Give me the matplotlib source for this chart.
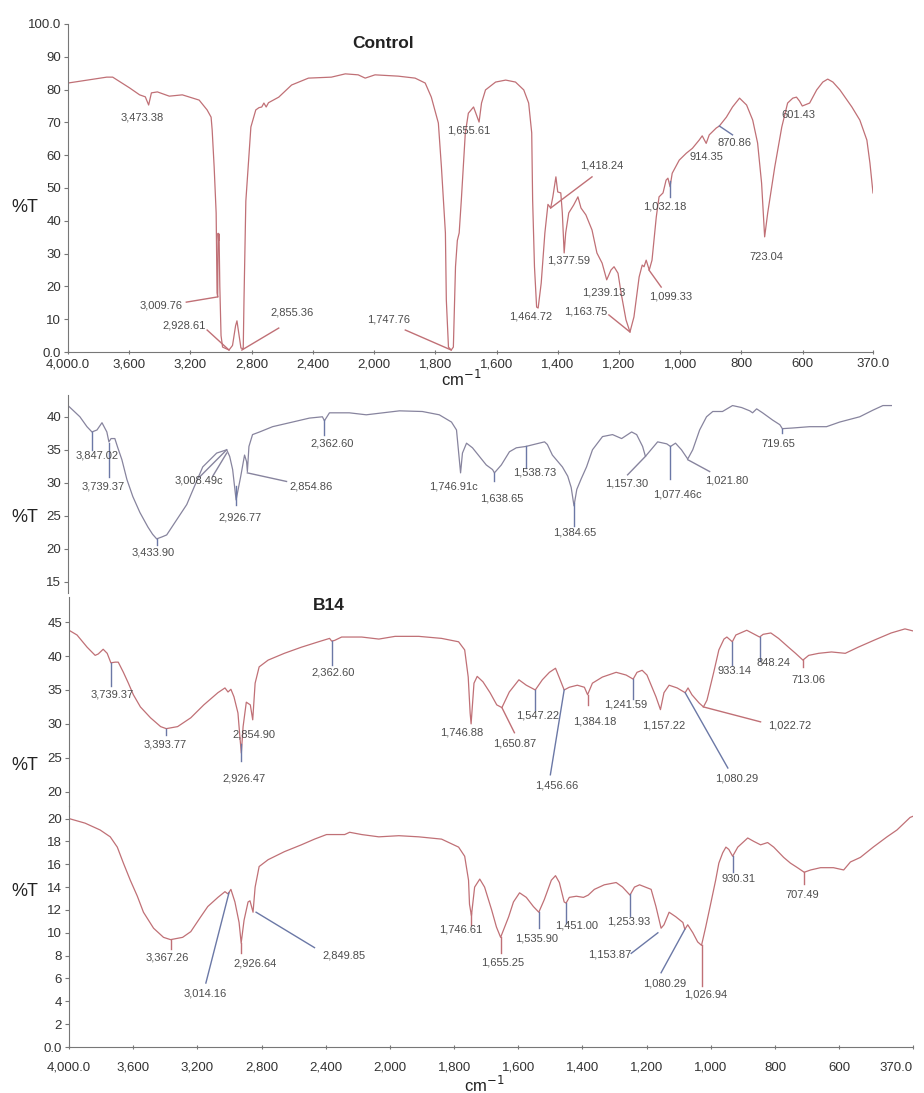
import numpy as np
import matplotlib
matplotlib.use('Agg')
import matplotlib.pyplot as plt

plt.rcParams['font.family'] = ['Liberation Sans', 'DejaVu Sans']

# ---- spectre Control ----
wn_control = [4000, 3747, 3708, 3597, 3532, 3495, 3473, 3455, 3416, 3338, 3253, 3143, 3091, 3065,
              3058, 3045, 3032, 3026, 3022, 3019, 3016, 3013, 3008, 3000, 2990, 2948, 2925, 2905,
              2896, 2885, 2870, 2855, 2850, 2838, 2805, 2773, 2752, 2734, 2720, 2705, 2690, 2623,
              2539, 2429, 2279, 2188, 2104, 2058, 1997, 1921, 1866, 1833, 1813, 1790, 1780, 1767,
              1764, 1757, 1748, 1741, 1737, 1734, 1728, 1722, 1715, 1702, 1692, 1675, 1657, 1649,
              1636, 1603, 1570, 1538, 1511, 1495, 1485, 1482, 1476, 1469, 1464, 1454, 1442, 1432,
              1423, 1416, 1406, 1400, 1390, 1385, 1379, 1374, 1364, 1348, 1334, 1324, 1308, 1288,
              1272, 1255, 1240, 1226, 1216, 1203, 1193, 1177, 1164, 1151, 1134, 1124, 1118, 1111,
              1101, 1092, 1078, 1069, 1056, 1046, 1040, 1033, 1026, 1003, 980, 960, 938, 928, 915,
              905, 882, 872, 849, 829, 806, 783, 763, 747, 734, 724, 714, 691, 668, 649, 632, 620,
              610, 601, 577, 554, 534, 518, 501, 478, 455, 439, 413, 390, 380, 370]
t_control = [82.0, 83.8, 83.8, 80.5, 78.4, 77.8, 75.3, 79.0, 79.3, 78.0, 78.4, 76.8, 73.8, 71.6,
             67.7, 56.4, 42.4, 18.0, 16.8, 36.2, 34.0, 36.0, 20.0, 5.0, 1.5, 0.6, 2.0, 8.0,
             9.5, 6.0, 1.2, 1.0, 15.9, 46.0, 68.6, 73.8, 74.5, 74.7, 75.9, 74.7, 76.0, 77.7,
             81.4, 83.5, 83.8, 84.8, 84.5, 83.5, 84.5, 84.1, 83.5, 82.0, 77.7, 69.8, 56.4, 36.3,
             15.9, 1.5, 0.6, 1.5, 15.9, 26.0, 34.0, 36.3, 46.3, 66.7, 72.8, 74.7, 70.1, 75.9,
             79.9, 82.3, 82.9, 82.3, 79.9, 75.9, 66.8, 46.3, 26.0, 13.7, 13.4, 21.0, 36.3, 45.0,
             43.9, 47.3, 53.4, 48.8, 48.5, 42.4, 30.2, 36.3, 42.4, 44.8, 47.3, 43.9, 41.8, 37.2,
             30.2, 27.1, 22.0, 25.0, 26.0, 24.0, 18.0, 9.8, 6.1, 10.7, 22.9, 26.5, 26.0, 28.0,
             25.0, 28.0, 41.2, 47.3, 48.5, 52.4, 53.0, 50.4, 54.5, 58.5, 60.6, 62.1, 64.6, 65.9, 63.6,
             66.2, 68.3, 68.9, 71.6, 74.7, 77.4, 75.3, 70.7, 63.7, 51.5, 35.1, 42.4, 56.4, 68.6, 75.9, 77.4, 77.7,
             76.5, 75.0, 75.9, 79.9, 82.3, 83.2, 82.3, 79.9, 76.8, 74.7, 70.7, 64.6, 57.6, 48.5]
pics_control = ["3,473.38", "3,009.76", "2,928.61", "2,855.36", "1,747.76", "1,655.61", "1,418.24",
                "1,377.59", "1,464.72", "1,239.13", "1,163.75", "1,099.33", "1,032.18", "914.35",
                "870.86", "723.04", "601.43"]

# ---- spectre 2 ----
wn_s2 = [4000, 3924, 3879, 3847, 3815, 3783, 3752, 3739, 3725, 3701, 3682, 3656, 3624, 3586, 3541,
         3490, 3460, 3434, 3400, 3370, 3306, 3242, 3210, 3140, 3051, 2987, 2968, 2949, 2927, 2898,
         2873, 2860, 2855, 2845, 2822, 2777, 2694, 2567, 2459, 2376, 2363, 2331, 2204, 2096, 1942,
         1869, 1815, 1776, 1760, 1753, 1747, 1741, 1728, 1709, 1687, 1665, 1645, 1639, 1617, 1591,
         1569, 1539, 1505, 1479, 1470, 1454, 1422, 1405, 1394, 1385, 1376, 1362, 1345, 1326, 1294,
         1262, 1233, 1201, 1185, 1166, 1157, 1134, 1118, 1089, 1077, 1061, 1042, 1022, 1006, 984,
         962, 942, 911, 879, 850, 824, 815, 802, 783, 751, 728, 720, 687, 633, 579, 537, 473, 431,
         399, 370]
t_s2 = [41.7, 40.0, 38.5, 37.7, 38.0, 39.1, 37.7, 36.2, 36.7, 36.7, 35.3, 33.5, 30.5, 27.9, 25.5,
        23.3, 22.2, 21.5, 21.8, 22.1, 24.4, 26.7, 28.5, 32.4, 34.5, 35.0, 34.0, 32.0, 27.4, 30.9,
        34.2, 33.2, 31.7, 35.5, 37.3, 37.7, 38.5, 39.2, 39.8, 40.0, 39.4, 40.6, 40.6, 40.3, 40.9,
        40.8, 40.3, 39.2, 38.0, 34.5, 31.5, 34.5, 36.0, 35.3, 34.0, 32.7, 32.0, 31.5, 32.7, 34.7,
        35.3, 35.5, 35.9, 36.2, 35.8, 34.2, 32.4, 31.0, 29.3, 26.5, 29.0, 30.6, 32.4, 35.0, 37.0,
        37.3, 36.7, 37.7, 37.3, 35.5, 34.0, 35.3, 36.2, 35.9, 35.5, 36.0, 35.0, 33.6, 35.0, 38.0,
        40.0, 40.8, 40.8, 41.7, 41.4, 40.9, 40.6, 41.2, 40.6, 39.5, 38.8, 38.2, 38.3, 38.5, 38.5,
        39.2, 40.0, 41.0, 41.7, 41.7]
pics_s2 = ["3,847.02", "3,739.37", "3,433.90", "3,008.49c", "2,926.77", "2,854.86", "2,362.60",
           "1,746.91c", "1,638.65", "1,538.73", "1,384.65", "1,157.30", "1,077.46c", "1,021.80",
           "719.65"]

# ---- spectre B14 ----
wn_b14 = [4000, 3950, 3887, 3837, 3818, 3787, 3762, 3739, 3712, 3693, 3661, 3630, 3599, 3555, 3492,
          3429, 3394, 3323, 3241, 3160, 3072, 3028, 3009, 2991, 2972, 2947, 2935, 2926, 2915, 2895,
          2870, 2855, 2840, 2815, 2759, 2658, 2552, 2445, 2376, 2363, 2345, 2301, 2176, 2069, 1984,
          1910, 1839, 1786, 1767, 1756, 1750, 1747, 1738, 1728, 1710, 1688, 1667, 1651, 1628, 1598,
          1575, 1547, 1525, 1503, 1484, 1472, 1457, 1441, 1416, 1394, 1384, 1369, 1338, 1295, 1264,
          1242, 1230, 1214, 1199, 1171, 1157, 1146, 1130, 1105, 1080, 1071, 1059, 1037, 1023, 1012,
          991, 975, 959, 950, 933, 922, 888, 872, 848, 837, 813, 789, 758, 736, 713, 695, 664, 624,
          581, 541, 488, 438, 395, 370]
t_b14 = [43.8, 43.1, 41.3, 40.1, 40.3, 41.0, 40.4, 39.0, 39.1, 39.1, 37.6, 36.0, 34.3, 32.5, 30.9,
         29.6, 29.3, 29.6, 30.9, 32.8, 34.6, 35.3, 34.7, 35.1, 34.0, 31.6, 28.1, 25.7, 29.6, 33.2,
         32.8, 30.6, 36.0, 38.4, 39.4, 40.4, 41.3, 42.1, 42.6, 42.2, 42.3, 42.8, 42.8, 42.5, 42.9,
         42.9, 42.6, 42.1, 40.9, 36.9, 31.6, 30.0, 36.0, 37.0, 36.2, 34.6, 32.8, 32.4, 34.7, 36.5,
         35.7, 35.0, 36.5, 37.6, 38.2, 36.8, 35.0, 35.4, 35.7, 35.4, 34.3, 36.0, 36.9, 37.6, 37.2,
         36.6, 37.6, 37.9, 37.2, 34.0, 32.1, 34.6, 35.7, 35.3, 34.6, 35.3, 34.3, 33.1, 32.5, 33.5,
         37.6, 40.9, 42.5, 42.8, 42.1, 43.1, 43.8, 43.4, 42.8, 43.2, 43.4, 42.6, 41.3, 40.4, 39.4,
         40.1, 40.4, 40.6, 40.4, 41.3, 42.4, 43.4, 44.0, 43.7]
pics_b14 = ["3,739.37", "3,393.77", "2,854.90", "2,926.47", "2,362.60", "1,746.88", "1,650.87",
            "1,547.22", "1,456.66", "1,384.18", "1,241.59", "1,157.22", "1,080.29", "1,022.72",
            "933.14", "848.24", "713.06"]

# ---- spectre 4 ----
wn_s4 = [4000, 3900, 3806, 3743, 3699, 3661, 3618, 3574, 3536, 3473, 3411, 3367, 3292, 3241, 3179,
         3135, 3072, 3028, 3009, 2991, 2966, 2940, 2927, 2909, 2884, 2872, 2853, 2840, 2815, 2759,
         2658, 2552, 2470, 2395, 2282, 2251, 2176, 2069, 1972, 1910, 1839, 1786, 1767, 1755, 1752,
         1746, 1736, 1720, 1705, 1683, 1668, 1655, 1630, 1615, 1596, 1575, 1553, 1536, 1519, 1497,
         1484, 1472, 1457, 1451, 1441, 1419, 1397, 1382, 1363, 1332, 1295, 1275, 1252, 1238, 1222,
         1186, 1171, 1155, 1146, 1130, 1109, 1087, 1081, 1072, 1056, 1041, 1029, 1016, 1000, 985,
         975, 963, 953, 944, 932, 916, 885, 866, 845, 823, 804, 773, 752, 730, 709, 689, 658, 618,
         586, 565, 534, 494, 451, 420, 379, 370]
t_s4 = [20.0, 19.6, 19.0, 18.4, 17.5, 16.1, 14.6, 13.2, 11.8, 10.4, 9.6, 9.4, 9.6, 10.1, 11.4,
        12.3, 13.1, 13.6, 13.4, 13.8, 12.7, 10.9, 9.1, 11.1, 12.7, 12.8, 11.8, 14.0, 15.8, 16.4,
        17.1, 17.7, 18.2, 18.6, 18.6, 18.8, 18.6, 18.4, 18.5, 18.4, 18.2, 17.5, 16.7, 14.6, 12.5,
        11.5, 14.0, 14.7, 14.0, 12.0, 10.5, 9.6, 11.4, 12.7, 13.5, 13.1, 12.3, 11.8, 12.9, 14.6,
        15.0, 14.4, 12.7, 12.6, 13.1, 13.2, 13.1, 13.3, 13.8, 14.2, 14.4, 14.0, 13.3, 14.0, 14.2,
        13.8, 12.3, 10.4, 10.7, 11.8, 11.4, 10.9, 10.3, 10.7, 10.0, 9.2, 8.9, 10.5, 12.6, 14.6,
        16.1, 17.0, 17.5, 17.3, 16.7, 17.5, 18.3, 18.0, 17.7, 17.9, 17.5, 16.6, 16.1, 15.7, 15.3,
        15.5, 15.7, 15.7, 15.5, 16.2, 16.6, 17.5, 18.4, 19.0, 20.1, 20.2]
pics_s4 = ["3,367.26", "3,014.16", "2,926.64", "2,849.85", "1,746.61", "1,655.25", "1,535.90",
           "1,451.00", "1,253.93", "1,153.87", "1,080.29", "1,026.94", "930.31", "707.49"]

# position des etiquettes (x en cm-1, y en %T)
pos_control = [(3513, 71.6), (3390, 14.3), (3240, 8.2), (2539, 11.9), (1954, 9.8), (1692, 67.4),
               (1255, 57.0), (1364, 28.0), (1488, 10.7), (1249, 18.0), (1308, 12.2), (1031, 17.0),
               (1049, 44.5), (915, 59.5), (823, 63.7), (720, 29.0), (613, 72.3)]
pos_s2 = [(3815, 34.1), (3777, 29.5), (3459, 19.4), (3166, 30.3), (2904, 24.7), (2446, 29.5),
          (2312, 36.0), (1770, 29.5), (1617, 27.6), (1511, 31.5), (1383, 22.4), (1217, 29.9),
          (1054, 28.2), (898, 30.3), (732, 35.9)]
pos_b14 = [(3730, 34.3), (3398, 26.9), (2846, 28.4), (2909, 21.9), (2351, 37.6), (1776, 28.7),
           (1612, 27.1), (1540, 31.2), (1481, 20.9), (1363, 30.4), (1264, 32.8), (1146, 29.7),
           (918, 21.9), (754, 29.7), (925, 37.8), (806, 39.0), (697, 36.5)]
pos_s4 = [(3386, 7.8), (3154, 4.7), (2840, 7.3), (2288, 8.0), (1780, 10.3), (1649, 7.4),
          (1544, 9.5), (1418, 10.6), (1255, 11.0), (1314, 8.1), (1143, 5.6), (1016, 4.6),
          (915, 14.7), (714, 13.3)]

# traits de rappel : (x1, y1, x2, y2, couleur)
traits_control = [(3227, 15.2, 3022, 16.8, 'r'), (3091, 6.7, 2948, 0.6, 'r'), (2623, 7.3, 2864, 0.6, 'r'),
                  (1898, 6.7, 1748, 0.6, 'r'), (1288, 53.4, 1423, 43.9, 'r'), (1233, 11.3, 1164, 6.1, 'r'),
                  (1102, 25.0, 1062, 19.8, 'r'), (1033, 52.0, 1033, 47.3, 'b'), (872, 68.9, 829, 66.2, 'b')]
traits_s2 = [(3847, 37.7, 3847, 35.0, 'b'), (3739, 36.0, 3739, 30.9, 'b'), (3434, 21.5, 3434, 20.5, 'b'),
             (2927, 29.5, 2927, 26.6, 'b'), (2363, 39.5, 2363, 37.3, 'b'), (1639, 31.5, 1639, 30.2, 'b'),
             (1539, 35.5, 1539, 32.3, 'b'), (1385, 27.0, 1385, 23.5, 'b'), (1077, 35.5, 1077, 30.5, 'b'),
             (720, 38.2, 720, 37.6, 'b'), (3159, 30.9, 2987, 35.0, 'g'), (3076, 31.0, 2987, 34.5, 'g'),
             (2855, 31.5, 2605, 30.2, 'g'), (1157, 34.0, 1214, 31.2, 'g'), (1022, 33.5, 952, 31.7, 'g')]
traits_b14 = [(3739, 39.0, 3739, 35.6, 'b'), (3394, 29.3, 3394, 28.4, 'b'), (2926, 27.1, 2926, 24.5, 'b'),
              (2363, 42.2, 2363, 38.7, 'b'), (1547, 35.0, 1547, 32.1, 'b'), (1384, 34.3, 1384, 32.8, 'r'),
              (1242, 36.6, 1242, 33.6, 'b'), (933, 42.1, 933, 38.7, 'b'), (848, 42.8, 848, 39.3, 'b'),
              (713, 39.4, 713, 38.4, 'r'), (1651, 32.4, 1612, 28.7, 'r'), (1457, 35.0, 1500, 22.5, 'b'),
              (1080, 34.6, 947, 23.5, 'b'), (1023, 32.5, 845, 30.3, 'r')]
traits_s4 = [(3367, 9.4, 3367, 8.6, 'r'), (2927, 9.1, 2927, 8.2, 'r'), (1746, 11.7, 1746, 10.7, 'r'),
             (1655, 9.6, 1655, 8.2, 'r'), (1536, 11.8, 1536, 10.4, 'b'), (1451, 12.6, 1451, 10.9, 'b'),
             (1252, 13.4, 1252, 11.5, 'b'), (1029, 8.9, 1029, 5.3, 'r'), (932, 16.7, 932, 15.3, 'b'),
             (709, 15.3, 709, 14.3, 'r'), (3147, 5.6, 3003, 13.5, 'b'), (2834, 11.8, 2470, 8.7, 'b'),
             (1165, 10.0, 1248, 8.2, 'b'), (1081, 10.3, 1155, 6.5, 'b')]

rouge = '#c07076'
gris = '#87849e'
couleurs = {'r': rouge, 'b': '#6b78a6', 'g': gris}
texte = '#4d4d4d'


# echelle x : double resolution sous 2000 cm-1
def avant(x):
    x = np.asarray(x, dtype=float)
    return np.where(x > 2000, 2000 + (x - 2000) / 2, x)


def arriere(u):
    u = np.asarray(u, dtype=float)
    return np.where(u > 2000, 2000 + (u - 2000) * 2, u)


W, H = 924, 1093
fig = plt.figure(figsize=(W / 100, H / 100), dpi=100)


def axe(gauche, haut, droite, bas):
    return fig.add_axes([gauche / W, 1 - bas / H, (droite - gauche) / W, (bas - haut) / H])


def trace(ax, wn, t, couleur, pics, pos, traits, ylim, yticks, ylabels, axe_x):
    ax.set_xscale('function', functions=(avant, arriere))
    ax.plot(wn, t, color=couleur, lw=0.9)
    for x1, y1, x2, y2, c in traits:
        ax.plot([x1, x2], [y1, y2], color=couleurs[c], lw=1.0)
    for nom, (x, y) in zip(pics, pos):
        ax.text(x, y, nom, fontsize=8, color=texte, ha='center', va='center')
    ax.set_xlim(4000, 370)
    ax.set_ylim(*ylim)
    ax.set_yticks(yticks)
    ax.set_yticklabels(ylabels)
    ax.patch.set_alpha(0)
    for s in ['top', 'right']:
        ax.spines[s].set_visible(False)
    ax.spines['left'].set_color('#777777')
    ax.tick_params(axis='y', direction='out', length=3, color='#777777',
                   labelsize=9.5, labelcolor='#333333', pad=2)
    if axe_x:
        ax.spines['bottom'].set_color('#777777')
        xt = [4000, 3600, 3200, 2800, 2400, 2000, 1800, 1600, 1400, 1200, 1000, 800, 600, 370]
        ax.set_xticks(xt)
        ax.set_xticklabels(['4,000.0', '3,600', '3,200', '2,800', '2,400', '2,000', '1,800',
                            '1,600', '1,400', '1,200', '1,000', '800', '600', '370.0'])
        ax.tick_params(axis='x', direction='inout', length=3, color='#777777',
                       labelsize=9.5, labelcolor='#333333')
    else:
        ax.spines['bottom'].set_visible(False)
        ax.set_xticks([])
    ax.minorticks_off()


ax1 = axe(68, 24, 873, 352)
trace(ax1, wn_control, t_control, rouge, pics_control, pos_control, traits_control, (0, 100),
      [0, 10, 20, 30, 40, 50, 60, 70, 80, 90, 100],
      ['0.0', '10', '20', '30', '40', '50', '60', '70', '80', '90', '100.0'], True)
ax1.tick_params(axis='x', pad=3)
ax1.text(1970, 94.2, 'Control', fontsize=12.5, fontweight='bold', color='#222222', ha='center', va='center')

ax2 = axe(68, 395, 892, 593)
trace(ax2, wn_s2, t_s2, gris, pics_s2, pos_s2, traits_s2, (13.3, 43.3),
      [15, 20, 25, 30, 35, 40], ['15', '20', '25', '30', '35', '40'], False)

ax3 = axe(69, 597, 913, 806)
trace(ax3, wn_b14, t_b14, rouge, pics_b14, pos_b14, traits_b14, (17.9, 48.7),
      [20, 25, 30, 35, 40, 45], ['20', '25', '30', '35', '40', '45'], False)
ax3.text(2382, 47.4, 'B14', fontsize=12.5, fontweight='bold', color='#222222', ha='center', va='center')

ax4 = axe(69, 806, 913, 1047)
trace(ax4, wn_s4, t_s4, rouge, pics_s4, pos_s4, traits_s4, (0, 21.1),
      [0, 2, 4, 6, 8, 10, 12, 14, 16, 18, 20],
      ['0.0', '2', '4', '6', '8', '10', '12', '14', '16', '18', '20'], True)
ax4.tick_params(axis='x', pad=9)
# le dernier libelle en bas ne doit pas sortir de l'image
ax4.get_xticklabels()[-1].set_horizontalalignment('right')

# legendes des axes
for y in [207, 518, 765, 892]:
    fig.text(25 / W, 1 - y / H, '%T', fontsize=13, color='#222222', ha='center', va='center')
fig.text(461 / W, 1 - 379 / H, r'cm$^{-1}$', fontsize=12, color='#222222', ha='center', va='center')
fig.text(484 / W, 1 - 1085 / H, r'cm$^{-1}$', fontsize=12, color='#222222', ha='center', va='center')

fig.savefig('out.png', dpi=100, facecolor='white')
